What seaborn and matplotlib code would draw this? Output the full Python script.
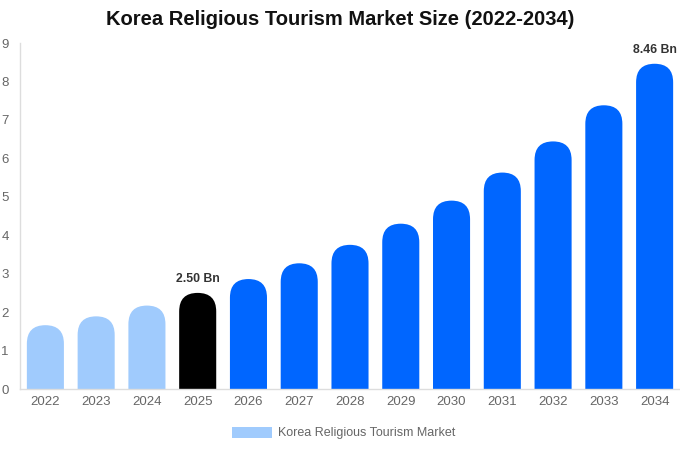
import matplotlib
matplotlib.use('Agg')
import matplotlib.pyplot as plt
from matplotlib.patches import FancyBboxPatch, Patch
import seaborn as sns
import pandas as pd

years = ['2022', '2023', '2024', '2025', '2026', '2027', '2028',
         '2029', '2030', '2031', '2032', '2033', '2034']
market_size = [1.66, 1.89, 2.17, 2.50, 2.86, 3.27, 3.75,
               4.30, 4.90, 5.63, 6.44, 7.38, 8.46]
bar_colors = ['#a0cbfd'] * 3 + ['#000000'] + ['#0066ff'] * 9
labelled = {'2025': '2.50 Bn', '2034': '8.46 Bn'}

sns.set_style('white')
plt.rcParams['font.family'] = ['Liberation Sans', 'DejaVu Sans']

df = pd.DataFrame({'Year': years, 'Size': market_size})

fig = plt.figure(figsize=(6.8, 4.5), dpi=100)
ax = fig.add_axes([20 / 680, 1 - 389 / 450, 660 / 680, (389 - 43) / 450])

sns.barplot(data=df, x='Year', y='Size', hue='Year', palette=bar_colors,
            saturation=1, width=0.73, legend=False, ax=ax)
ax.set_xlim(-0.5, 12.5)
ax.set_ylim(0, 9)

# swap the flat bars for ones with round tops
fig.canvas.draw()
px_x = ax.transData.transform((1, 0))[0] - ax.transData.transform((0, 0))[0]
px_y = ax.transData.transform((0, 1))[1] - ax.transData.transform((0, 0))[1]
for bar in list(ax.patches):
    x, w, h = bar.get_x(), bar.get_width(), bar.get_height()
    r = w / 2
    ry = r * px_x / px_y
    rounded = FancyBboxPatch((x, -ry), w, h + ry,
                             boxstyle=f'round,pad=0,rounding_size={r}',
                             mutation_aspect=ry / r,
                             facecolor=bar.get_facecolor(), edgecolor='none')
    bar.set_visible(False)
    ax.add_patch(rounded)

for i, year in enumerate(years):
    if year in labelled:
        ax.text(i, market_size[i] + 0.2, labelled[year], ha='center', va='bottom',
                fontsize=8.8, fontweight='bold', color='#333333')

ax.set_xlabel('')
ax.set_ylabel('')
ax.set_yticks(range(0, 10))
ax.tick_params(axis='both', length=0, labelsize=9.5, colors='#666666')
ax.tick_params(axis='y', pad=8)
ax.tick_params(axis='x', pad=5)
for side in ['top', 'right']:
    ax.spines[side].set_visible(False)
for side in ['left', 'bottom']:
    ax.spines[side].set_color('#dddddd')
    ax.spines[side].set_linewidth(1)

fig.suptitle('Korea Religious Tourism Market Size (2022-2034)', x=0.5, y=0.978,
             fontsize=14.5, fontweight='bold', color='#111111')

handle = Patch(facecolor='#a0cbfd', edgecolor='none')
fig.legend([handle], ['Korea Religious Tourism Market'], loc='center',
           bbox_to_anchor=(344 / 680, 1 - 433 / 450), frameon=False, fontsize=9,
           handlelength=3.2, handleheight=1.0, handletextpad=0.5,
           labelcolor='#666666')

fig.savefig('out.png', dpi=100)
